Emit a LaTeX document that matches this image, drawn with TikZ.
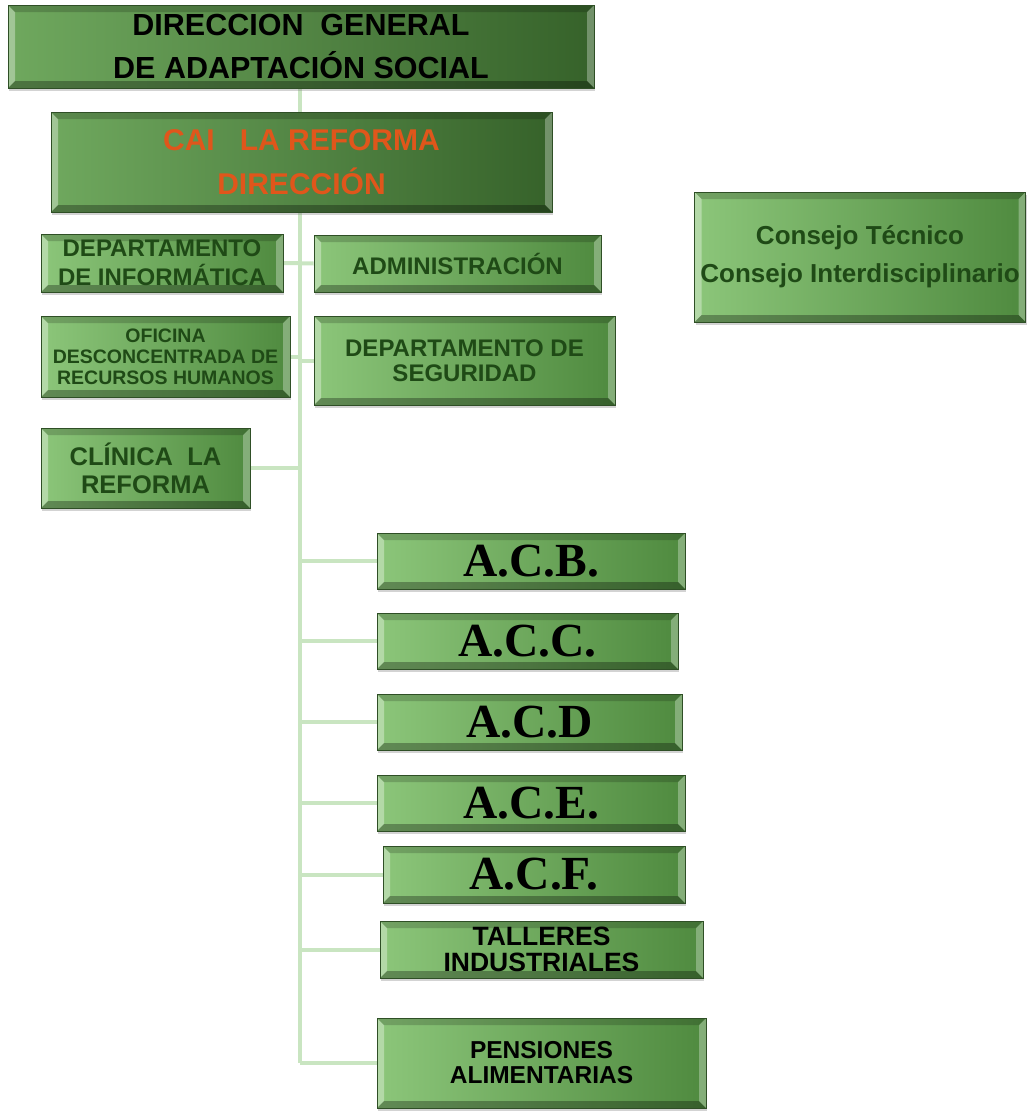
\documentclass[tikz,border=0pt]{standalone}
\usepackage{fontspec}
\setmainfont{Liberation Sans}
\newfontfamily\acserif{Liberation Serif}
\usetikzlibrary{positioning,shadows,backgrounds}
\definecolor{boxlight}{HTML}{8CC67A}
\definecolor{boxdark}{HTML}{4F8A3F}
\definecolor{toplight}{HTML}{6FA85E}
\definecolor{topdark}{HTML}{36622A}
\definecolor{boxedge}{HTML}{2F4F26}
\definecolor{deptext}{HTML}{1F4A16}
\definecolor{caitext}{HTML}{E0561B}
\definecolor{trunk}{HTML}{C9E5C1}

\begin{document}
\begin{tikzpicture}[x=1pt,y=-1pt,
                    every node/.append style = {align = center, inner sep = 0pt},
                    unit/.style = {draw = boxedge, line width = 0.8pt,
                                   left color = boxlight, right color = boxdark,
                                   drop shadow = {shadow xshift = 1pt, shadow yshift = -2.5pt, opacity = 0.35},
                                   path picture = {
                                     \fill[white, opacity = 0.35] (path picture bounding box.north west) -- ([shift = {(7pt,-7pt)}]path picture bounding box.north west)
                                       -- ([shift = {(7pt,7pt)}]path picture bounding box.south west) -- (path picture bounding box.south west) -- cycle;
                                     \fill[white, opacity = 0.3] (path picture bounding box.north east) -- ([shift = {(-7pt,-7pt)}]path picture bounding box.north east)
                                       -- ([shift = {(-7pt,7pt)}]path picture bounding box.south east) -- (path picture bounding box.south east) -- cycle;
                                     \fill[black, opacity = 0.18] (path picture bounding box.north west) -- ([shift = {(7pt,-7pt)}]path picture bounding box.north west)
                                       -- ([shift = {(-7pt,-7pt)}]path picture bounding box.north east) -- (path picture bounding box.north east) -- cycle;
                                     \fill[black, opacity = 0.3] (path picture bounding box.south west) -- ([shift = {(7pt,7pt)}]path picture bounding box.south west)
                                       -- ([shift = {(-7pt,7pt)}]path picture bounding box.south east) -- (path picture bounding box.south east) -- cycle;}},
                    headunit/.style = {unit, left color = toplight, right color = topdark},
                    dept/.style = {unit, text = deptext},
                    area/.style = {unit, font = \acserif\bfseries\fontsize{47.5}{50}\selectfont},
                    link/.style = {draw = trunk, line width = 4pt}]
    \useasboundingbox (0,0) rectangle (1026,1111);
    % direccion
    \node[headunit, minimum width = 586pt, minimum height = 83pt, font = \bfseries\fontsize{30.5}{43}\selectfont] (dg) at (301,46.5)
        {DIRECCION\ \ GENERAL\\DE ADAPTACIÓN SOCIAL};
    \node[headunit, minimum width = 501pt, minimum height = 100pt, text = caitext, font = \bfseries\fontsize{30}{44}\selectfont] (cai) at (301.5,162)
        {CAI\ \ \ LA REFORMA\\DIRECCIÓN};
    % departamentos
    \node[dept, minimum width = 242pt, minimum height = 58pt, font = \bfseries\fontsize{24}{29}\selectfont] (dinf) at (162,263)
        {DEPARTAMENTO\\DE INFORMÁTICA};
    \node[dept, minimum width = 287pt, minimum height = 57pt, font = \bfseries\fontsize{24}{26}\selectfont] (adm) at (457.5,263.5)
        {ADMINISTRACIÓN};
    \node[dept, minimum width = 249pt, minimum height = 81pt, font = \bfseries\fontsize{19.5}{21}\selectfont] (ofi) at (165.5,356.5)
        {OFICINA\\DESCONCENTRADA DE\\RECURSOS HUMANOS};
    \node[dept, minimum width = 301pt, minimum height = 89pt, font = \bfseries\fontsize{24}{25}\selectfont] (seg) at (464.5,360.5)
        {DEPARTAMENTO DE\\SEGURIDAD};
    \node[dept, minimum width = 209pt, minimum height = 80pt, font = \bfseries\fontsize{25.5}{28}\selectfont] (cli) at (145.5,468)
        {CLÍNICA\ \ LA\\REFORMA};
    \node[dept, minimum width = 331pt, minimum height = 130pt, font = \bfseries\fontsize{26}{38}\selectfont] (cons) at (860,257)
        {Consejo Técnico\\Consejo Interdisciplinario};
    % areas
    \node[area, minimum width = 308pt, minimum height = 56pt] (acb) at (531,561) {A.C.B.};
    \node[area, minimum width = 301pt, minimum height = 56pt] (acc) at (527.5,641) {A.C.C.};
    \node[area, minimum width = 305pt, minimum height = 56pt] (acd) at (529.5,722) {A.C.D};
    \node[area, minimum width = 308pt, minimum height = 56pt] (ace) at (531,803) {A.C.E.};
    \node[area, minimum width = 302pt, minimum height = 57pt] (acf) at (534,874.5) {A.C.F.};
    \node[unit, minimum width = 323pt, minimum height = 57pt, font = \bfseries\fontsize{26.5}{26}\selectfont] (tal) at (541.5,949.5)
        {TALLERES\\INDUSTRIALES};
    \node[unit, minimum width = 329pt, minimum height = 90pt, font = \bfseries\fontsize{24.5}{25}\selectfont] (pen) at (541.5,1063)
        {PENSIONES\\ALIMENTARIAS};
    \coordinate (tr) at (300,1063);
    \begin{scope}[on background layer]
        \draw[link] (dg.south -| tr) -- (tr);
        \draw[link] (dinf.east) -- (adm.west);
        \draw[link] (ofi.east) -- (ofi.east -| tr);
        \draw[link] (seg.west) -- (seg.west -| tr);
        \draw[link] (cli.east) -- (cli.east -| tr);
        \draw[link] (acb.west) -- (acb.west -| tr);
        \draw[link] (acc.west) -- (acc.west -| tr);
        \draw[link] (acd.west) -- (acd.west -| tr);
        \draw[link] (ace.west) -- (ace.west -| tr);
        \draw[link] (acf.west) -- (acf.west -| tr);
        \draw[link] (tal.west) -- (tal.west -| tr);
        \draw[link] (pen.west) -- (pen.west -| tr);
    \end{scope}
\end{tikzpicture}
\end{document}
